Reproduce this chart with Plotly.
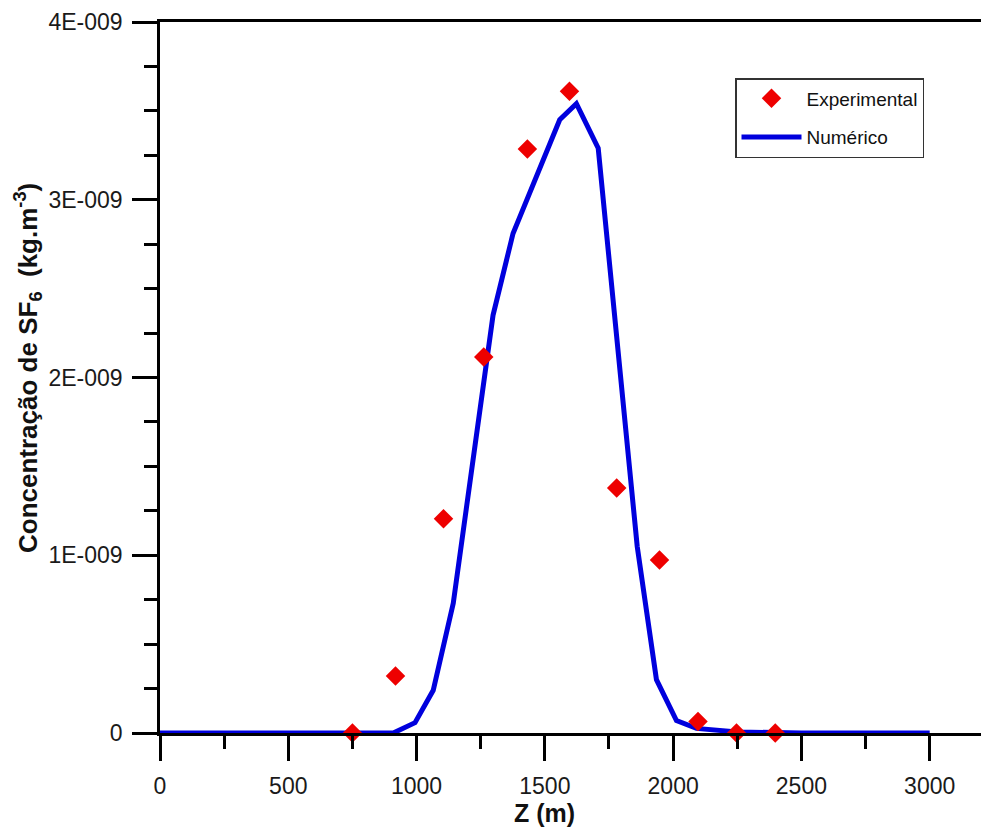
import plotly.graph_objects as go

# ---- data ----
exp_z = [750, 918, 1105, 1262, 1432, 1596, 1780, 1947, 2097, 2247, 2398]
exp_c = [0.0, 0.32e-9, 1.205e-9, 2.115e-9, 3.285e-9, 3.61e-9, 1.378e-9, 0.973e-9, 0.065e-9, 0.0, 0.0]

num_z = [0, 909, 994, 1065, 1143, 1298, 1376, 1467, 1558, 1623, 1708, 1860, 1935, 2013, 2091, 2250, 2500, 3000]
num_c = [0.0, 0.0, 0.058e-9, 0.24e-9, 0.73e-9, 2.35e-9, 2.81e-9, 3.13e-9, 3.45e-9, 3.54e-9,
         3.29e-9, 1.05e-9, 0.30e-9, 0.07e-9, 0.026e-9, 0.006e-9, 0.0, 0.0]

x_ticks = [0, 500, 1000, 1500, 2000, 2500, 3000]
y_ticks = [0, 1e-9, 2e-9, 3e-9, 4e-9]
y_labels = ["0", "1E-009", "2E-009", "3E-009", "4E-009"]

FONT = "Liberation Sans, Arial, sans-serif"

fig = go.Figure()
fig.add_trace(go.Scatter(
    x=num_z, y=num_c, mode="lines", name="Numérico",
    line=dict(color="#0000dd", width=5), cliponaxis=False,
    legendgroup="b", legendrank=2,
))
fig.add_trace(go.Scatter(
    x=exp_z, y=exp_c, mode="markers", name="Experimental",
    marker=dict(symbol="diamond", size=15, color="#ee0000", line=dict(width=0)),
    cliponaxis=False, legendgroup="a", legendrank=1,
))

axis_common = dict(
    showgrid=False, zeroline=False, showline=True, linecolor="#000", linewidth=2.5,
    ticks="outside", ticklen=25, tickwidth=2.5, tickcolor="#000",
    tickfont=dict(family=FONT, size=23, color="#1a1a1a"),
)

fig.update_xaxes(
    range=[0, 3200], tickmode="array", tickvals=x_ticks,
    ticktext=[str(v) for v in x_ticks], mirror=True, ticklabelstandoff=6,
    minor=dict(dtick=250, tick0=0, ticks="outside", ticklen=13, tickwidth=2.5, tickcolor="#000"),
    **axis_common,
)
fig.update_yaxes(
    range=[0, 4e-9], tickmode="array", tickvals=y_ticks, ticktext=y_labels,
    ticklabelstandoff=5,
    minor=dict(dtick=0.25e-9, tick0=0, ticks="outside", ticklen=13, tickwidth=2.5, tickcolor="#000"),
    **axis_common,
)

fig.add_annotation(
    text="<b>Z (m)</b>", xref="paper", yref="paper", x=(544 - 160) / 821, y=-(813 - 733) / 711,
    xanchor="center", yanchor="middle", showarrow=False,
    font=dict(family=FONT, size=25, color="#111"),
)
fig.add_annotation(
    text="<b>Concentração de SF<sub>6</sub>  (kg.m<sup>-3</sup>)</b>", xref="paper", yref="paper",
    x=(28 - 160) / 821, y=(733 - 368) / 711, textangle=-90,
    xanchor="center", yanchor="middle", showarrow=False,
    font=dict(family=FONT, size=26, color="#111"),
)

fig.update_layout(
    width=981, height=828,
    margin=dict(l=160, r=0, t=22, b=95),
    plot_bgcolor="white", paper_bgcolor="white",
    showlegend=True,
    legend=dict(
        x=(735 - 160) / 821, y=(733 - 78) / 711, xanchor="left", yanchor="top",
        bgcolor="white", bordercolor="#333", borderwidth=1.5,
        font=dict(family=FONT, size=19, color="#111"),
        tracegroupgap=11, itemwidth=60,
    ),
)

fig.write_html("out.html")
